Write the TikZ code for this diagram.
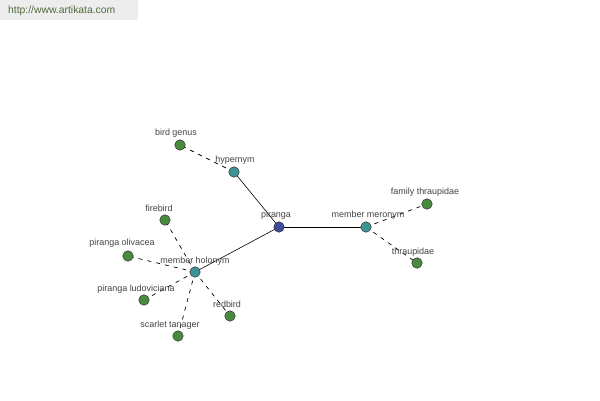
\documentclass[tikz,border=0pt]{standalone}
\usepackage{fontspec}
\setmainfont{Liberation Sans}
\definecolor{nblue}{HTML}{3F4C9E}
\definecolor{nteal}{HTML}{3E9494}
\definecolor{ngreen}{HTML}{4A8A3E}
\definecolor{txt}{HTML}{444444}
\definecolor{urlc}{HTML}{4F6B3A}
\begin{document}
\begin{tikzpicture}[x=1bp,y=-1bp,
  dot/.style={circle,draw=black!80,line width=0.5bp,minimum size=10.5bp,inner sep=0pt},
  lbl/.style={font=\fontsize{9}{10}\selectfont,text=txt,inner sep=0pt},
  solidl/.style={draw=black,line width=0.6bp},
  dashl/.style={draw=black,line width=0.7bp,dash pattern=on 4bp off 5bp}]
\useasboundingbox (0,0) rectangle (600,400);
\fill[white] (0,0) rectangle (600,400);
\fill[black!7] (0,0) rectangle (138,20);
\node[font=\fontsize{10.4}{12}\selectfont,text=urlc,anchor=west,inner sep=0pt] (url) at (8,11) {http://www.artikata.com};
% edges first
\coordinate (p) at (279,227);
\coordinate (hy) at (234,172);
\coordinate (bg) at (180,145);
\coordinate (mm) at (366,227);
\coordinate (ft) at (427,204);
\coordinate (th) at (417,263);
\coordinate (mh) at (195,272);
\coordinate (fb) at (165,220);
\coordinate (po) at (128,256);
\coordinate (pl) at (144,300);
\coordinate (rb) at (230,316);
\coordinate (st) at (178,336);
\draw[solidl] (p) -- (hy);
\draw[solidl] (p) -- (mm);
\draw[solidl] (p) -- (mh);
\draw[dashl] (hy) -- (bg);
\draw[dashl] (mm) -- (ft);
\draw[dashl] (mm) -- (th);
\draw[dashl] (mh) -- (fb);
\draw[dashl] (mh) -- (po);
\draw[dashl] (mh) -- (pl);
\draw[dashl] (mh) -- (rb);
\draw[dashl] (mh) -- (st);
% nodes
\node[dot,fill=nblue] (piranga) at (p) {};
\node[dot,fill=nteal] (hypernym) at (hy) {};
\node[dot,fill=ngreen] (birdgenus) at (bg) {};
\node[dot,fill=nteal] (meronym) at (mm) {};
\node[dot,fill=ngreen] (famthr) at (ft) {};
\node[dot,fill=ngreen] (thr) at (th) {};
\node[dot,fill=nteal] (holonym) at (mh) {};
\node[dot,fill=ngreen] (firebird) at (fb) {};
\node[dot,fill=ngreen] (olivacea) at (po) {};
\node[dot,fill=ngreen] (ludov) at (pl) {};
\node[dot,fill=ngreen] (redbird) at (rb) {};
\node[dot,fill=ngreen] (scarlet) at (st) {};
% labels
\node[lbl] (l1) at (276,215) {piranga};
\node[lbl] (l2) at (235,160) {hypernym};
\node[lbl] (l3) at (176,133) {bird genus};
\node[lbl] (l4) at (368,215) {member meronym};
\node[lbl] (l5) at (425,192) {family thraupidae};
\node[lbl] (l6) at (413,252) {thraupidae};
\node[lbl] (l7) at (195,261) {member holonym};
\node[lbl] (l8) at (159,208) {firebird};
\node[lbl] (l9) at (122,243) {piranga olivacea};
\node[lbl] (l10) at (136,289) {piranga ludoviciana};
\node[lbl] (l11) at (227,304) {redbird};
\node[lbl] (l12) at (170,325) {scarlet tanager};
\end{tikzpicture}
\end{document}
